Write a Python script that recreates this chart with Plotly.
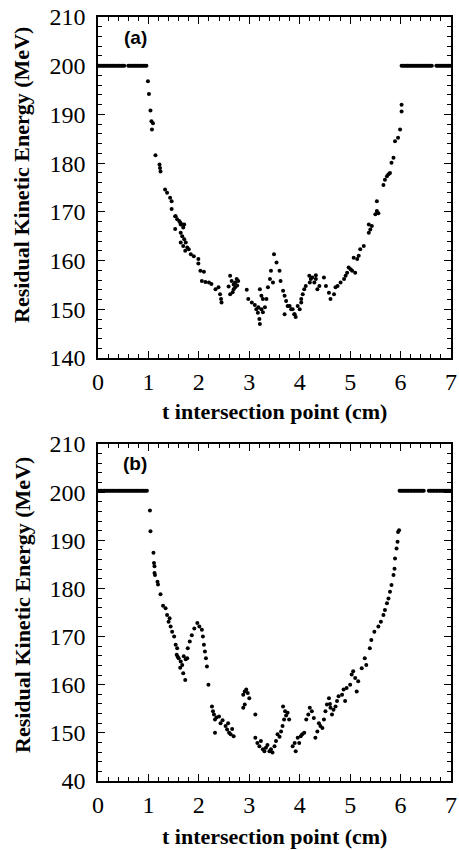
import plotly.graph_objects as go

# ---------------- Panel (a) data ----------------
a_plateau_left_x = [0.01, 0.04, 0.07, 0.10, 0.13, 0.16, 0.19, 0.22, 0.25, 0.28, 0.31, 0.34,
                    0.37, 0.40, 0.43, 0.46, 0.49, 0.52, 0.60, 0.63, 0.66, 0.69, 0.72, 0.75,
                    0.78, 0.81, 0.84, 0.87, 0.90, 0.93, 0.96]
a_plateau_right_x = [6.02, 6.05, 6.08, 6.11, 6.14, 6.17, 6.20, 6.23, 6.26, 6.29, 6.32, 6.35,
                     6.38, 6.41, 6.44, 6.47, 6.50, 6.53, 6.56, 6.59, 6.62, 6.71, 6.74,
                     6.77, 6.80, 6.83, 6.86, 6.89, 6.92, 6.95, 6.98]
a_plateau_E = 200.0

a_x = [0.99, 1.01, 1.04, 1.06, 1.09, 1.07, 1.14, 1.22, 1.23, 1.24, 1.33, 1.37, 1.43, 1.46,
       1.46, 1.53, 1.57, 1.63, 1.67, 1.69, 1.54, 1.61, 1.64, 1.71, 1.53, 1.64, 1.67, 1.71,
       1.74, 1.77, 1.80, 1.64, 1.69, 1.73, 1.84, 1.90, 1.99, 1.99, 2.03, 2.10, 2.06, 2.13,
       2.20, 2.25, 2.33, 2.39, 2.42, 2.44, 2.45, 2.62, 2.65, 2.69, 2.72, 2.75, 2.78, 2.72,
       2.69, 2.62, 2.59, 2.67, 2.76, 2.95, 2.98, 3.05, 3.11, 3.18, 3.24, 3.27, 3.20, 3.21,
       3.21, 3.24, 3.27, 3.34, 3.31, 3.14, 3.17, 3.37, 3.41, 3.43, 3.47, 3.49, 3.54, 3.60,
       3.62, 3.67, 3.70, 3.73, 3.80, 3.86, 3.89, 3.70, 3.76, 3.83, 3.90, 3.92, 3.96, 4.03,
       4.06, 4.09, 4.12, 4.03, 4.00, 4.19, 4.22, 4.25, 4.29, 4.32, 4.35, 4.39, 4.32, 4.20,
       4.48, 4.52, 4.58, 4.61, 4.68, 4.71, 4.75, 4.81, 4.88, 4.91, 4.94, 4.97, 5.01, 5.04,
       5.10, 5.07, 5.14, 5.17, 5.20, 5.27, 5.37, 5.40, 5.43, 5.37, 5.50, 5.53, 5.53, 5.56,
       5.69, 5.73, 5.76, 5.79, 5.66, 5.82, 5.86, 5.89, 5.95, 5.99, 6.02, 6.02]
a_E = [196.8, 194.2, 190.8, 188.6, 188.2, 186.9, 181.6, 179.7, 179.0, 178.3, 174.6, 173.9,
       172.9, 172.2, 170.6, 169.1, 168.5, 167.8, 167.4, 166.8, 169.1, 168.1, 167.4, 167.4,
       166.5, 165.7, 165.0, 164.4, 163.7, 162.7, 162.3, 163.7, 163.0, 162.0, 161.3, 160.9,
       160.3, 159.4, 157.9, 157.7, 155.8, 155.6, 155.5, 155.2, 154.1, 154.5, 153.1, 152.1,
       151.4, 156.9, 155.8, 155.1, 155.5, 156.2, 155.8, 154.5, 154.1, 153.1, 154.7, 153.5,
       154.9, 154.0, 152.1, 151.4, 150.9, 150.4, 150.0, 149.4, 148.0, 147.0, 154.1, 152.8,
       152.1, 152.1, 150.4, 150.0, 149.3, 154.5, 156.2, 157.9, 155.5, 161.3, 159.6, 157.9,
       155.8, 153.8, 152.8, 151.7, 150.7, 150.0, 149.0, 149.0, 150.7, 150.0, 149.0, 148.4,
       150.7, 152.1, 153.1, 154.1, 154.8, 151.4, 150.0, 156.9, 156.2, 156.5, 155.5, 156.2,
       154.1, 154.8, 157.0, 155.5, 156.5, 154.8, 153.4, 152.1, 153.1, 154.5, 154.8, 155.5,
       156.2, 156.9, 157.5, 158.6, 158.2, 157.9, 157.5, 160.6, 160.3, 161.0, 162.3, 163.0,
       165.7, 166.4, 167.1, 167.4, 169.5, 170.2, 172.2, 169.7, 176.6, 177.3, 177.7, 178.0,
       175.5, 180.1, 181.1, 184.5, 185.2, 186.9, 192.0, 190.6]

# ---------------- Panel (b) data ----------------
b_plateau_left_x = [0.01, 0.04, 0.07, 0.10, 0.13, 0.16, 0.19, 0.22, 0.25, 0.28, 0.31, 0.34,
                    0.37, 0.40, 0.43, 0.46, 0.49, 0.52, 0.55, 0.58, 0.61, 0.64, 0.67, 0.70,
                    0.73, 0.76, 0.79, 0.82, 0.85, 0.88, 0.91, 0.94, 0.97]
b_plateau_right_x = [5.98, 6.01, 6.04, 6.07, 6.10, 6.13, 6.16, 6.19, 6.22, 6.25, 6.28, 6.31,
                     6.34, 6.37, 6.40, 6.43, 6.46, 6.56, 6.59, 6.62, 6.65, 6.68, 6.71, 6.74,
                     6.77, 6.80, 6.83, 6.86, 6.89, 6.92, 6.95, 6.98]
b_plateau_E = 200.3

b_x = [1.03, 1.04, 1.10, 1.11, 1.12, 1.12, 1.13, 1.18, 1.19, 1.24, 1.29, 1.34, 1.37, 1.40,
       1.42, 1.44, 1.47, 1.51, 1.54, 1.57, 1.56, 1.58, 1.60, 1.64, 1.67, 1.63, 1.69, 1.73,
       1.70, 1.74, 1.77, 1.78, 1.82, 1.86, 1.91, 1.97, 2.01, 2.06, 2.08, 2.10, 2.12, 2.14,
       2.16, 2.19, 2.26, 2.28, 2.30, 2.32, 2.35, 2.40, 2.43, 2.47, 2.53, 2.56, 2.58, 2.60,
       2.63, 2.66, 2.69, 2.32, 2.88, 2.91, 2.94, 2.97, 3.00, 2.91, 2.88, 3.12, 3.12, 3.16,
       3.20, 3.23, 3.27, 3.30, 3.33, 3.36, 3.40, 3.43, 3.46, 3.50, 3.53, 3.56, 3.60, 3.63,
       3.66, 3.69, 3.71, 3.67, 3.73, 3.76, 3.79, 3.86, 3.90, 3.92, 3.96, 3.99, 4.02, 4.05,
       4.09, 4.13, 4.17, 4.20, 4.24, 4.28, 4.31, 4.35, 4.38, 4.41, 4.45, 4.48, 4.51, 4.54,
       4.58, 4.60, 4.61, 4.64, 4.67, 4.71, 4.74, 4.77, 4.84, 4.90, 4.87, 4.93, 5.00, 5.03,
       5.06, 5.10, 5.13, 5.16, 5.23, 5.29, 5.32, 5.39, 5.42, 5.48, 5.56, 5.61, 5.66, 5.69,
       5.73, 5.76, 5.79, 5.82, 5.86, 5.88, 5.89, 5.92, 5.94, 5.95, 5.97]
b_E = [196.2, 191.9, 187.4, 185.3, 184.6, 183.2, 182.8, 181.4, 180.8, 178.8, 176.4, 175.9,
       174.5, 173.1, 173.8, 172.1, 171.0, 170.0, 168.3, 167.6, 166.2, 165.8, 165.5, 164.8,
       164.1, 163.5, 162.4, 161.0, 165.9, 165.3, 165.5, 167.6, 169.0, 170.3, 171.7, 172.8,
       172.1, 171.4, 170.0, 168.3, 166.9, 165.5, 163.8, 160.0, 155.5, 154.5, 153.8, 152.8,
       153.2, 153.4, 152.0, 152.6, 151.4, 150.7, 152.0, 150.0, 149.7, 150.8, 149.3, 150.0,
       157.9, 158.6, 159.0, 158.3, 157.2, 155.9, 155.2, 153.8, 149.0, 147.9, 147.2, 148.3,
       146.6, 146.2, 146.9, 147.5, 146.2, 146.6, 145.9, 147.2, 148.3, 149.7, 149.2, 150.3,
       151.4, 152.8, 154.5, 155.5, 153.6, 154.2, 152.8, 147.2, 147.9, 146.2, 149.0, 147.9,
       149.3, 149.7, 150.0, 152.8, 153.8, 155.2, 154.5, 153.1, 149.0, 150.3, 152.0, 151.4,
       151.0, 152.8, 154.5, 155.9, 157.2, 156.0, 155.2, 153.8, 154.8, 155.5, 156.6, 157.6,
       157.9, 156.6, 159.0, 159.3, 160.0, 162.1, 162.8, 161.4, 158.6, 160.7, 163.4, 165.5,
       164.1, 167.6, 169.3, 171.0, 172.1, 173.1, 174.5, 175.5, 176.9, 177.9, 179.3, 180.7,
       182.8, 184.1, 186.2, 188.3, 189.7, 191.7, 192.1]

x_tickvals = [0, 1, 2, 3, 4, 5, 6, 7]
y_tickvals = [140, 150, 160, 170, 180, 190, 200, 210]
y_ticktext_a = ["140", "150", "160", "170", "180", "190", "200", "210"]
y_ticktext_b = ["40", "150", "160", "170", "180", "190", "200", "210"]

FONT = "Liberation Serif"
W, H = 459, 850

fig = go.Figure()
mk = dict(color="black", size=4, symbol="circle")

def add_panel(xa, ya, xs, es, pl_left, pl_right, pl_E):
    fig.add_trace(go.Scatter(x=pl_left, y=[pl_E] * len(pl_left), mode="markers", marker=mk,
                             xaxis=xa, yaxis=ya, showlegend=False, hoverinfo="skip"))
    fig.add_trace(go.Scatter(x=pl_right, y=[pl_E] * len(pl_right), mode="markers", marker=mk,
                             xaxis=xa, yaxis=ya, showlegend=False, hoverinfo="skip"))
    fig.add_trace(go.Scatter(x=xs, y=es, mode="markers", marker=mk,
                             xaxis=xa, yaxis=ya, showlegend=False))

add_panel("x", "y", a_x, a_E, a_plateau_left_x, a_plateau_right_x, a_plateau_E)
add_panel("x2", "y2", b_x, b_E, b_plateau_left_x, b_plateau_right_x, b_plateau_E)

def xaxis_style(domain, anchor):
    return dict(domain=domain, anchor=anchor, range=[0, 7], tickvals=x_tickvals,
                ticks="inside", ticklen=7, tickwidth=1.3, tickcolor="black",
                minor=dict(dtick=0.2, tick0=0, ticks="inside", ticklen=4, tickwidth=1, tickcolor="black"),
                showline=True, linewidth=1.6, linecolor="black", mirror="allticks",
                showgrid=False, zeroline=False, automargin=False,
                ticklabelstandoff=1, ticklabeloverflow="allow",
                tickfont=dict(family=FONT, size=24, color="black"))

def yaxis_style(domain, anchor, ticktext):
    return dict(domain=domain, anchor=anchor, range=[140, 210], tickvals=y_tickvals,
                ticktext=ticktext,
                ticks="inside", ticklen=7, tickwidth=1.3, tickcolor="black",
                minor=dict(dtick=2, tick0=140, ticks="inside", ticklen=4, tickwidth=1, tickcolor="black"),
                showline=True, linewidth=1.6, linecolor="black", mirror="allticks",
                showgrid=False, zeroline=False, automargin=False,
                ticklabelstandoff=6, ticklabeloverflow="allow",
                tickfont=dict(family=FONT, size=24, color="black"))

xdom = [98 / W, 451 / W]
ydom_a = [1 - 358 / H, 1 - 17 / H]
ydom_b = [1 - 781 / H, 1 - 444 / H]

fig.update_layout(
    width=W, height=H,
    margin=dict(l=0, r=0, t=0, b=0),
    paper_bgcolor="white", plot_bgcolor="white",
    xaxis=xaxis_style(xdom, "y"),
    yaxis=yaxis_style(ydom_a, "x", y_ticktext_a),
    xaxis2=xaxis_style(xdom, "y2"),
    yaxis2=yaxis_style(ydom_b, "x2", y_ticktext_b),
)

title_font = dict(family=FONT, size=22, color="black")
ann = []
# x titles
for yc in (411, 836):
    ann.append(dict(text="<b>t intersection point (cm)</b>", xref="paper", yref="paper",
                    x=(98 + 451) / 2 / W, y=1 - yc / H, showarrow=False,
                    xanchor="center", yanchor="middle", font=title_font))
# y titles
for yc in (175, 605):
    ann.append(dict(text="<b>Residual Kinetic Energy (MeV)</b>", xref="paper", yref="paper",
                    x=22 / W, y=1 - yc / H, showarrow=False, textangle=-90,
                    xanchor="center", yanchor="middle", font=title_font))
# panel labels
ann.append(dict(text="<b>(a)</b>", xref="paper", yref="paper", x=135 / W, y=1 - 37 / H,
                showarrow=False, xanchor="center", yanchor="middle",
                font=dict(family="Liberation Sans", size=19, color="black")))
ann.append(dict(text="<b>(b)</b>", xref="paper", yref="paper", x=135 / W, y=1 - 463 / H,
                showarrow=False, xanchor="center", yanchor="middle",
                font=dict(family="Liberation Sans", size=19, color="black")))
fig.update_layout(annotations=ann)

fig.write_html("out.html")
